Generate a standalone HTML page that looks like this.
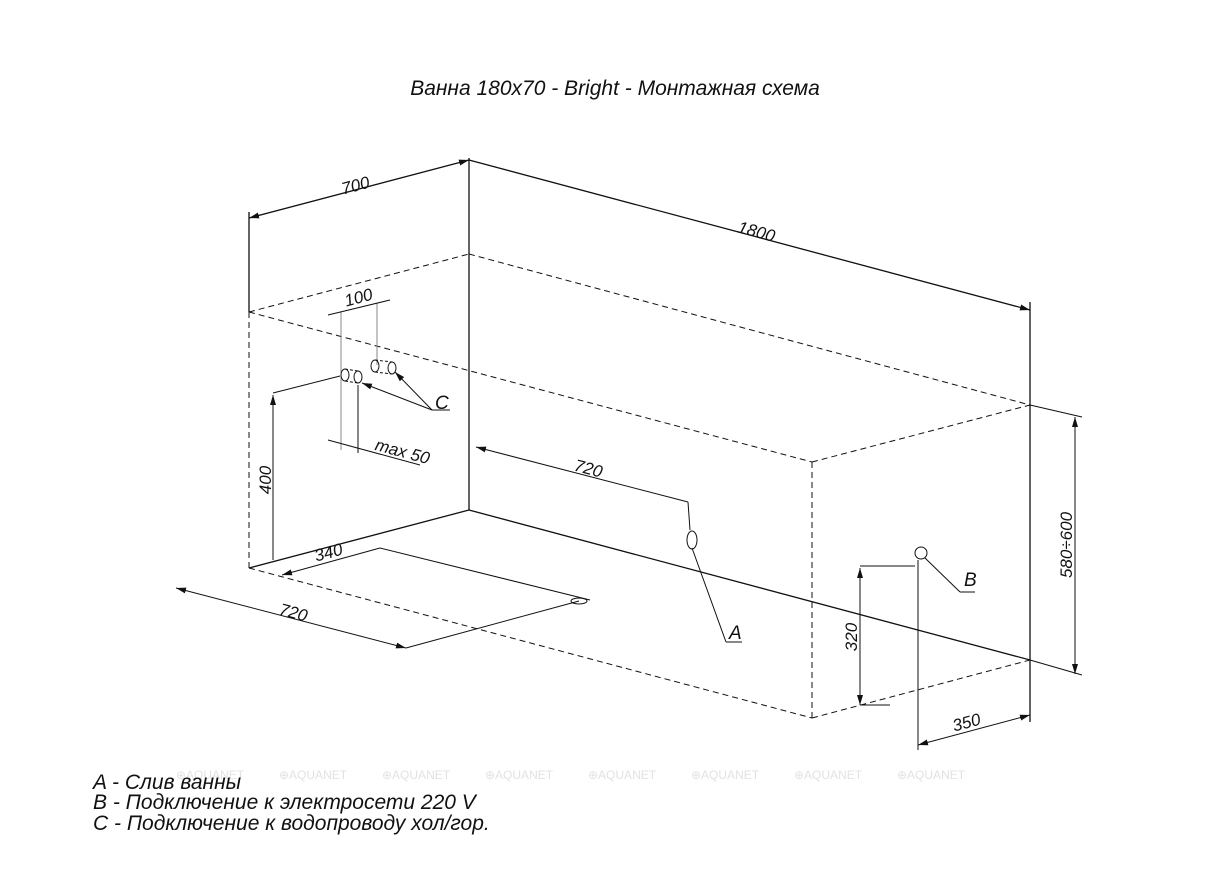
<!DOCTYPE html>
<html><head><meta charset="utf-8"><style>
html,body{margin:0;padding:0;background:#fff;}
svg{display:block;}
text{font-family:"Liberation Sans",sans-serif;font-style:italic;fill:#111;}
text.wm{font-style:normal;fill:#e2e2e2;font-size:12px;}
</style></head><body>
<svg width="1207" height="885" viewBox="0 0 1207 885" xmlns="http://www.w3.org/2000/svg">
<defs>
<marker id="ar" viewBox="0 0 10 6" refX="10" refY="3" markerWidth="10" markerHeight="6" orient="auto-start-reverse" markerUnits="userSpaceOnUse"><path d="M0,0 L10,3 L0,6 z" fill="#111"/></marker>
</defs>
<text x="615" y="95" font-size="21" text-anchor="middle">Ванна 180x70 - Bright - Монтажная схема</text>
<g stroke="#111" stroke-width="1.3" fill="none">
<line x1="469" y1="158" x2="469" y2="510"/>
<line x1="469" y1="510" x2="249" y2="568"/>
<line x1="469" y1="510" x2="1030" y2="660"/>
<line x1="249" y1="212" x2="249" y2="312"/>
<line x1="1030" y1="302" x2="1030" y2="722"/>
<line x1="249" y1="218" x2="469" y2="160" marker-start="url(#ar)" marker-end="url(#ar)"/>
<line x1="469" y1="160" x2="1030" y2="310" marker-end="url(#ar)"/>
</g>
<g stroke="#111" stroke-width="1" fill="none" stroke-dasharray="6,4">
<line x1="249" y1="312" x2="469" y2="254"/>
<line x1="469" y1="254" x2="1030" y2="405"/>
<line x1="249" y1="312" x2="812" y2="462"/>
<line x1="812" y1="462" x2="1030" y2="405"/>
<line x1="812" y1="462" x2="812" y2="718"/>
<line x1="812" y1="718" x2="1030" y2="660"/>
<line x1="249" y1="568" x2="812" y2="718"/>
<line x1="249" y1="312" x2="249" y2="568"/>
</g>
<g stroke="#111" stroke-width="1" fill="none">
<line x1="1030" y1="405" x2="1082" y2="417"/>
<line x1="1030" y1="660" x2="1082" y2="675"/>
<line x1="1075" y1="417" x2="1075" y2="674" marker-start="url(#ar)" marker-end="url(#ar)"/>
<line x1="918" y1="560" x2="918" y2="750"/>
<line x1="918" y1="745" x2="1030" y2="715" marker-start="url(#ar)" marker-end="url(#ar)"/>
<line x1="860" y1="566" x2="915" y2="566"/>
<line x1="860" y1="705" x2="890" y2="705"/>
<line x1="860" y1="568" x2="860" y2="705" marker-start="url(#ar)" marker-end="url(#ar)"/>
<circle cx="921" cy="553" r="6"/>
<line x1="925" y1="558" x2="960" y2="592"/>
<line x1="960" y1="592" x2="975" y2="592"/>
<ellipse cx="692" cy="540" rx="5" ry="9"/>
<line x1="692" y1="548" x2="726" y2="642"/>
<line x1="726" y1="642" x2="742" y2="642"/>
<line x1="476" y1="447" x2="688" y2="502" marker-start="url(#ar)"/>
<line x1="688" y1="502" x2="690" y2="530"/>
<line x1="176" y1="588" x2="406" y2="648" marker-start="url(#ar)" marker-end="url(#ar)"/>
<line x1="406" y1="648" x2="579" y2="601"/>
<line x1="282" y1="575" x2="380" y2="548" marker-start="url(#ar)"/>
<line x1="380" y1="548" x2="590" y2="600"/>
<ellipse cx="579" cy="601" rx="8" ry="3"/>
<line x1="273" y1="393" x2="340" y2="376"/>
<line x1="273" y1="395" x2="273" y2="560" marker-start="url(#ar)"/>
<line x1="341" y1="312" x2="341" y2="450" stroke="#888"/>
<line x1="377" y1="303" x2="377" y2="365" stroke="#888"/>
<line x1="328" y1="315" x2="390" y2="300"/>
<line x1="358" y1="385" x2="358" y2="453"/>
<line x1="328" y1="440" x2="420" y2="465"/>
<ellipse cx="345" cy="375" rx="4" ry="6"/>
<ellipse cx="358" cy="377" rx="4" ry="6"/>
<line x1="345" y1="369" x2="358" y2="371" stroke-dasharray="3,2"/>
<line x1="345" y1="381" x2="358" y2="383" stroke-dasharray="3,2"/>
<ellipse cx="375" cy="366" rx="4" ry="6"/>
<ellipse cx="392" cy="368" rx="4" ry="6"/>
<line x1="375" y1="360" x2="392" y2="362" stroke-dasharray="3,2"/>
<line x1="375" y1="372" x2="392" y2="374" stroke-dasharray="3,2"/>
<line x1="432" y1="410" x2="362" y2="383" marker-end="url(#ar)"/>
<line x1="432" y1="410" x2="395" y2="372" marker-end="url(#ar)"/>
<line x1="432" y1="410" x2="450" y2="410"/>
</g>
<g font-size="17">
<text transform="translate(357,191) rotate(-15)" text-anchor="middle">700</text>
<text transform="translate(755,237) rotate(15)" text-anchor="middle">1800</text>
<text transform="translate(1072,545) rotate(-90)" text-anchor="middle">580÷600</text>
<text transform="translate(968,728) rotate(-15)" text-anchor="middle">350</text>
<text transform="translate(857,637) rotate(-90)" text-anchor="middle">320</text>
<text transform="translate(587,474) rotate(15)" text-anchor="middle">720</text>
<text transform="translate(292,618) rotate(15)" text-anchor="middle">720</text>
<text transform="translate(330,558) rotate(-15)" text-anchor="middle">340</text>
<text transform="translate(271,480) rotate(-90)" text-anchor="middle">400</text>
<text transform="translate(360,303) rotate(-15)" text-anchor="middle">100</text>
<text transform="translate(401,457) rotate(15)" text-anchor="middle">max 50</text>
<text x="964" y="586" font-size="19">B</text>
<text x="729" y="639" font-size="19">A</text>
<text x="435" y="409" font-size="19">C</text>
</g>
<text class="wm" x="176" y="779">⊕AQUANET</text><text class="wm" x="279" y="779">⊕AQUANET</text>
<text class="wm" x="382" y="779">⊕AQUANET</text><text class="wm" x="485" y="779">⊕AQUANET</text>
<text class="wm" x="588" y="779">⊕AQUANET</text><text class="wm" x="691" y="779">⊕AQUANET</text>
<text class="wm" x="794" y="779">⊕AQUANET</text><text class="wm" x="897" y="779">⊕AQUANET</text>
<g font-size="21">
<text x="93" y="789">A - Слив ванны</text>
<text x="93" y="809">B - Подключение к электросети 220 V</text>
<text x="93" y="830">C - Подключение к водопроводу хол/гор.</text>
</g>
</svg>
</body></html>
